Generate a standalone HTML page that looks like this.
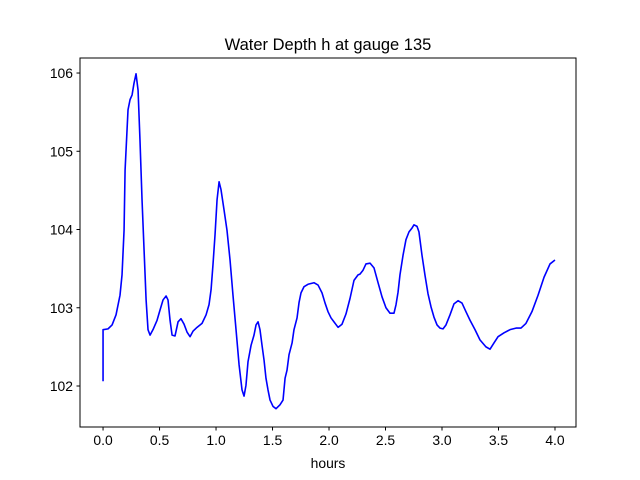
<!DOCTYPE html>
<html><head><meta charset="utf-8">
<style>
html,body{margin:0;padding:0;background:#fff;}
svg{display:block;font-family:"Liberation Sans","DejaVu Sans",sans-serif;}
</style></head>
<body>
<svg id="chart" width="640" height="480" viewBox="0 0 640 480" xmlns="http://www.w3.org/2000/svg">
<rect x="0" y="0" width="640" height="480" fill="#fff"/>
<text x="328" y="50" text-anchor="middle" font-size="16.5" fill="#000">Water Depth h at gauge 135</text>
<g id="xticks"></g>
<g id="yticks"></g>
<path id="series" fill="none" stroke="#0000ff" stroke-width="1.6" stroke-linejoin="round"/>
<rect x="80" y="58" width="496" height="369" fill="none" stroke="#000" stroke-width="1"/>
<text x="328" y="468" text-anchor="middle" font-size="13.9" fill="#000">hours</text>
</svg>
<script>
const xTicks = [0.0, 0.5, 1.0, 1.5, 2.0, 2.5, 3.0, 3.5, 4.0];
const xTickLabels = ["0.0","0.5","1.0","1.5","2.0","2.5","3.0","3.5","4.0"];
const yTicks = [102, 103, 104, 105, 106];
const yTickLabels = ["102","103","104","105","106"];
const hours = [0,0,0.044,0.080,0.115,0.150,0.168,0.186,0.195,0.221,0.239,0.257,0.274,0.292,0.310,0.327,0.345,0.363,0.381,0.398,0.416,0.442,0.478,0.504,0.531,0.558,0.575,0.593,0.611,0.637,0.664,0.690,0.717,0.743,0.770,0.796,0.832,0.876,0.912,0.938,0.956,0.973,0.991,1.009,1.027,1.044,1.071,1.097,1.124,1.150,1.177,1.204,1.230,1.248,1.265,1.283,1.310,1.336,1.354,1.372,1.389,1.407,1.425,1.442,1.460,1.478,1.504,1.531,1.566,1.593,1.611,1.628,1.646,1.673,1.690,1.717,1.735,1.752,1.779,1.814,1.867,1.903,1.938,1.965,1.991,2.018,2.044,2.080,2.115,2.150,2.186,2.221,2.257,2.274,2.301,2.327,2.363,2.398,2.434,2.469,2.504,2.540,2.575,2.593,2.611,2.628,2.655,2.681,2.708,2.735,2.752,2.779,2.796,2.823,2.850,2.876,2.903,2.929,2.956,2.982,3.009,3.035,3.071,3.106,3.142,3.177,3.212,3.248,3.292,3.336,3.389,3.425,3.460,3.496,3.549,3.602,3.655,3.699,3.743,3.796,3.850,3.903,3.956,4.0];
const depth = [102.06,102.72,102.73,102.78,102.91,103.16,103.42,103.99,104.76,105.53,105.66,105.72,105.87,105.99,105.78,105.14,104.38,103.74,103.10,102.72,102.65,102.72,102.84,102.97,103.10,103.15,103.10,102.84,102.65,102.64,102.82,102.86,102.79,102.69,102.63,102.70,102.75,102.80,102.91,103.04,103.23,103.55,103.93,104.38,104.61,104.51,104.25,103.99,103.61,103.16,102.72,102.27,101.95,101.87,102.01,102.31,102.52,102.65,102.78,102.82,102.72,102.52,102.33,102.10,101.95,101.82,101.74,101.71,101.76,101.82,102.10,102.20,102.40,102.55,102.72,102.87,103.07,103.19,103.27,103.30,103.32,103.29,103.19,103.06,102.95,102.87,102.82,102.75,102.79,102.92,103.12,103.35,103.42,103.43,103.48,103.56,103.57,103.51,103.32,103.14,103.00,102.93,102.93,103.04,103.20,103.42,103.67,103.87,103.97,104.02,104.06,104.04,103.97,103.67,103.41,103.18,103.01,102.88,102.78,102.74,102.73,102.78,102.91,103.05,103.09,103.06,102.95,102.84,102.72,102.59,102.50,102.47,102.55,102.63,102.68,102.72,102.74,102.74,102.80,102.95,103.16,103.39,103.56,103.61];

const X0 = 80, X1 = 576, Y0 = 58, Y1 = 427;
const xMin = -0.204, xMax = 4.186, yMin = 101.476, yMax = 106.192;
function sx(v){ return X0 + (v - xMin) / (xMax - xMin) * (X1 - X0); }
function sy(v){ return Y1 - (v - yMin) / (yMax - yMin) * (Y1 - Y0); }
const NS = "http://www.w3.org/2000/svg";

const xg = document.getElementById('xticks');
xTicks.forEach((t, i) => {
  const x = sx(t);
  const ln = document.createElementNS(NS, 'line');
  
  
  ln.setAttribute('x1', x); ln.setAttribute('x2', x);
  ln.setAttribute('y1', Y1); ln.setAttribute('y2', Y1 + 3.5);
  ln.setAttribute('stroke', '#000');
  xg.appendChild(ln);
  const tx = document.createElementNS(NS, 'text');
  
  
  tx.setAttribute('x', x); tx.setAttribute('y', Y1 + 18);
  tx.setAttribute('text-anchor', 'middle');
  tx.setAttribute('font-size', '13.9');
  tx.textContent = xTickLabels[i];
  xg.appendChild(tx);
});

const yg = document.getElementById('yticks');
yTicks.forEach((t, i) => {
  const y = sy(t);
  const ln = document.createElementNS(NS, 'line');
  
  
  ln.setAttribute('x1', X0 - 3.5); ln.setAttribute('x2', X0);
  ln.setAttribute('y1', y); ln.setAttribute('y2', y);
  ln.setAttribute('stroke', '#000');
  yg.appendChild(ln);
  const tx = document.createElementNS(NS, 'text');
  
  
  tx.setAttribute('x', X0 - 7); tx.setAttribute('y', y + 5);
  tx.setAttribute('text-anchor', 'end');
  tx.setAttribute('font-size', '13.9');
  tx.textContent = yTickLabels[i];
  yg.appendChild(tx);
});

let d = '';
hours.forEach((t, i) => {
  d += (i ? 'L' : 'M') + sx(t).toFixed(2) + ' ' + sy(depth[i]).toFixed(2);
});
document.getElementById('series').setAttribute('d', d);
</script>
</body></html>
